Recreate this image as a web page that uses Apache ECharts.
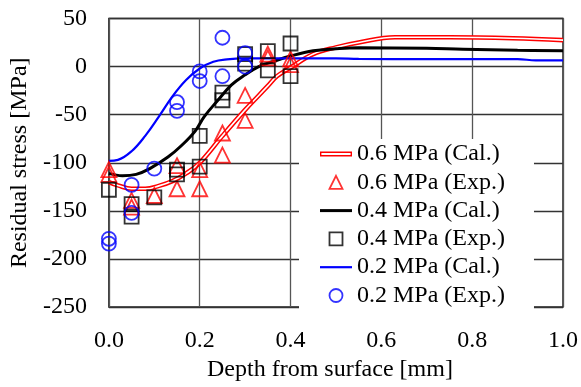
<!DOCTYPE html>
<html>
<head>
<meta charset="utf-8">
<script src="https://cdn.jsdelivr.net/npm/echarts@6.0.0/dist/echarts.min.js"></script>
<style>
html,body{margin:0;padding:0;background:#fff;}
#chart{width:581px;height:387px;}
</style>
</head>
<body>
<div id="chart"></div>
<script>
// ---- data ----
const legendNames = ['0.6 MPa (Cal.)', '0.6 MPa (Exp.)', '0.4 MPa (Cal.)', '0.4 MPa (Exp.)', '0.2 MPa (Cal.)', '0.2 MPa (Exp.)'];
const xTickValues = [0.0, 0.2, 0.4, 0.6, 0.8, 1.0];
const yTickValues = [-250, -200, -150, -100, -50, 0, 50];

const cal06 = [[0,-120],[0.02,-123.5],[0.05,-127],[0.08,-127],[0.11,-124],[0.14,-119],[0.17,-111],[0.2,-100],[0.25,-72],[0.3,-45],[0.33,-30],[0.35,-20],[0.37,-10],[0.4,-1],[0.45,13],[0.5,20],[0.55,25],[0.63,30.5],[0.75,30.5],[0.89,29.5],[1.0,27.5]];
const cal04 = [[0,-111],[0.03,-113.5],[0.06,-112],[0.09,-106],[0.13,-94],[0.16,-82],[0.19,-67],[0.21,-52],[0.24,-35],[0.27,-19],[0.3,-8.5],[0.33,0],[0.36,5],[0.4,11],[0.45,16.5],[0.5,18.5],[0.55,19.5],[0.7,19],[0.78,18],[0.9,17],[1.0,16.5]];
const cal02 = [[0,-98],[0.02,-97],[0.05,-88],[0.08,-72],[0.11,-52],[0.14,-31],[0.17,-14],[0.2,-2],[0.23,5],[0.26,7.5],[0.3,8.5],[0.4,8.5],[0.5,8.5],[0.55,8],[0.7,7.7],[0.9,7.7],[0.94,6.5],[1.0,6.4]];

const exp06 = [[0,-107],[0,-112],[0.05,-139],[0.05,-146],[0.1,-134],[0.15,-103],[0.15,-127],[0.2,-107],[0.2,-127],[0.25,-69],[0.25,-92],[0.3,-30],[0.3,-56],[0.35,13],[0.35,9],[0.4,8],[0.4,2]];
const exp04 = [[0,-128],[0.05,-143],[0.05,-156],[0.1,-136],[0.15,-107],[0.15,-112],[0.2,-72],[0.2,-104],[0.25,-27],[0.25,-35],[0.3,13],[0.3,3],[0.35,16],[0.35,-4],[0.4,24],[0.4,-10]];
const exp02 = [[0,-179],[0,-184],[0.05,-123],[0.05,-152],[0.1,-106],[0.15,-37],[0.15,-46],[0.2,-5],[0.2,-15],[0.25,30],[0.25,-10],[0.3,14],[0.3,0]];

// ---- chart ----
const FONT = 'Liberation Serif';
const chart = echarts.init(document.getElementById('chart'), null, {renderer: 'canvas'});

function hollow(name, data, symbol, size, color) {
  return {
    name: name, type: 'scatter', data: data, symbol: symbol, symbolSize: size,
    itemStyle: {color: 'none', borderColor: color, borderWidth: 1.8},
    z: 3
  };
}
function curve(name, data, color, width, z) {
  return {
    name: name, type: 'line', data: data, symbol: 'none', smooth: 0.4,
    color: color,
    itemStyle: {color: color},
    lineStyle: {color: color, width: width},
    z: z
  };
}
// legend icon shapes (32 x 13 box keeps line samples full width; markers centred)
const ICON_DOUBLE = 'path://M0,0H32V5H0Z M1.4,1.4V3.6H30.6V1.4Z';
const ICON_LINE3 = 'path://M0,0H32V3H0Z';
const ICON_LINE2 = 'path://M0,0H32V2.2H0Z';
const ICON_TRI = 'path://M0,0H32V13H0Z';

const option = {
  animation: false,
  backgroundColor: '#fff',
  grid: {left: 104, right: 14.5, top: 18.5, bottom: 70, show: true, borderColor: '#222', borderWidth: 1.5, backgroundColor: 'transparent'},
  xAxis: {
    type: 'value', min: 0, max: 1, interval: 0.2,
    name: 'Depth from surface [mm]', nameLocation: 'middle', nameGap: 43,
    nameTextStyle: {fontFamily: FONT, fontSize: 24, color: '#000', padding: [0, 12, 0, 0]},
    axisLine: {show: false}, axisTick: {show: false},
    axisLabel: {fontFamily: FONT, fontSize: 24, color: '#000', margin: 22,
      formatter: v => (xTickValues.indexOf(Math.round(v*10)/10) >= 0 ? v.toFixed(1) : '')},
    splitLine: {show: true, lineStyle: {color: '#555', width: 1.3}}
  },
  yAxis: {
    type: 'value', min: -250, max: 50, interval: 50,
    name: 'Residual stress [MPa]', nameLocation: 'middle', nameGap: 71,
    nameTextStyle: {fontFamily: FONT, fontSize: 24, color: '#000'},
    axisLine: {show: false}, axisTick: {show: false},
    axisLabel: {fontFamily: FONT, fontSize: 24, color: '#000', margin: 22,
      formatter: v => (yTickValues.indexOf(v) >= 0 ? String(v) : '')},
    splitLine: {show: true, lineStyle: {color: '#333', width: 1.3}}
  },
  legend: {
    orient: 'vertical', left: 299, top: 139,
    backgroundColor: '#fff', padding: [3, 29, 2, 21],
    itemWidth: 32, itemHeight: 13, itemGap: 4.3, symbolKeepAspect: true,
    textStyle: {fontFamily: FONT, fontSize: 24, color: '#000'},
    data: [
      {name: legendNames[0], icon: ICON_DOUBLE, itemStyle: {color: '#ff0000', borderWidth: 0}},
      {name: legendNames[1], icon: 'path://M6,0L12,12H0Z', itemStyle: {color: 'none', borderColor: '#ff0000', borderWidth: 1.8}},
      {name: legendNames[2], icon: ICON_LINE3, itemStyle: {color: '#000000', borderWidth: 0}},
      {name: legendNames[3], icon: 'path://M0,0H11V11H0Z', itemStyle: {color: 'none', borderColor: '#000000', borderWidth: 1.8}},
      {name: legendNames[4], icon: ICON_LINE2, itemStyle: {color: '#0000ff', borderWidth: 0}},
      {name: legendNames[5], icon: 'circle', itemStyle: {color: 'none', borderColor: '#0000ff', borderWidth: 1.8}}
    ]
  },
  series: [
    curve(legendNames[0], cal06, '#ff0000', 4.6, 2),
    {name: 'inner', type: 'line', data: cal06, symbol: 'none', smooth: 0.4, lineStyle: {color: '#fff', width: 1.6}, itemStyle: {color: '#fff'}, z: 2, silent: true},
    hollow(legendNames[1], exp06, 'triangle', 15, '#ff0000'),
    curve(legendNames[2], cal04, '#000000', 3, 2),
    hollow(legendNames[3], exp04, 'rect', 14, '#000000'),
    curve(legendNames[4], cal02, '#0000ff', 2.2, 2),
    hollow(legendNames[5], exp02, 'circle', 14, '#0000ff')
  ]
};
chart.setOption(option);
</script>
</body>
</html>
